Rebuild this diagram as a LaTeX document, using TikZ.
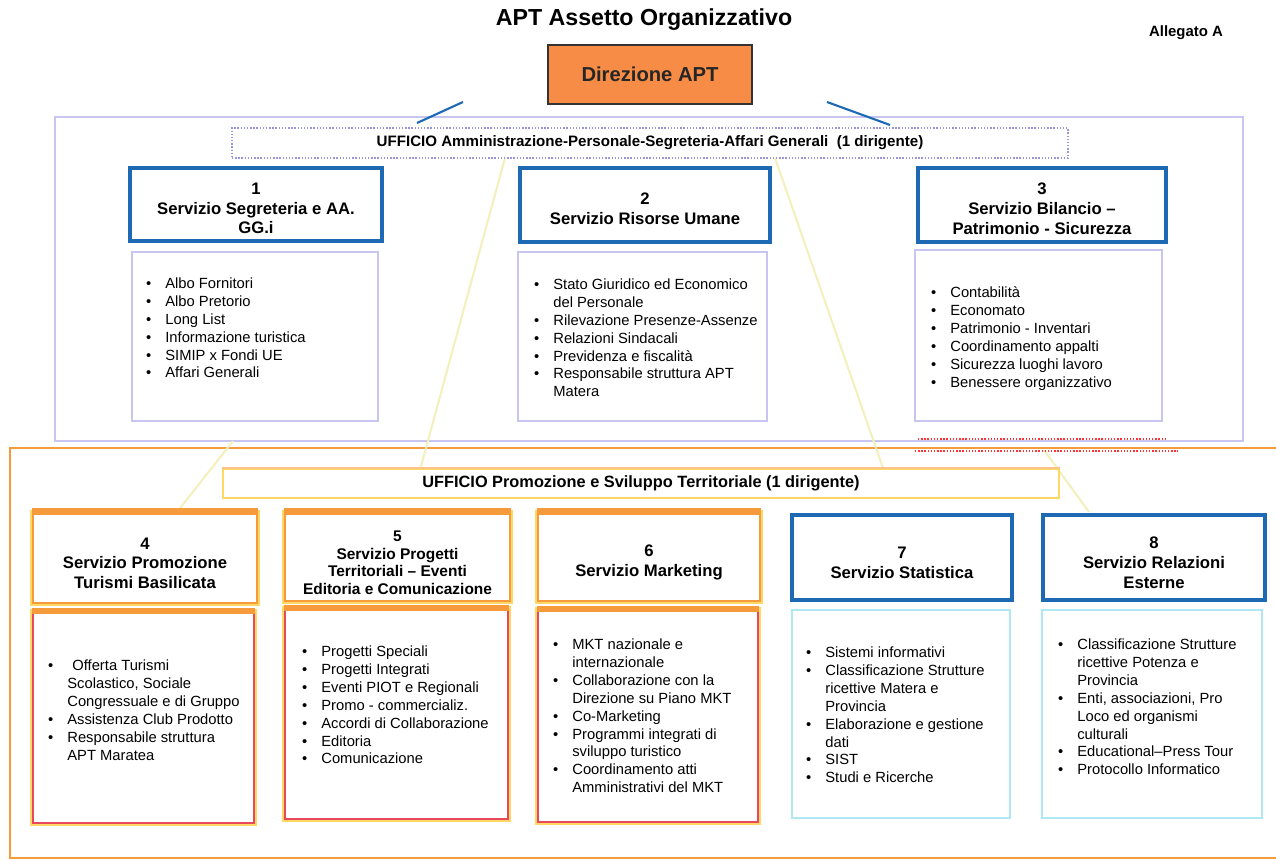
\documentclass[tikz,border=0pt]{standalone}
\usepackage{fontspec}
\setmainfont{Liberation Sans}
\usetikzlibrary{positioning}

\definecolor{dirorange}{RGB}{247,140,70}
\definecolor{boxblue}{RGB}{30,105,180}
\definecolor{lavender}{RGB}{200,198,240}
\definecolor{dotlav}{RGB}{150,150,220}
\definecolor{orgline}{RGB}{245,155,60}
\definecolor{listred}{RGB}{232,72,92}
\definecolor{halo}{RGB}{255,215,100}
\definecolor{cyanline}{RGB}{175,232,242}
\definecolor{faintyel}{RGB}{244,240,190}

\newcommand{\pw}[1]{#1*0.02cm}
\newcommand{\blt}{\llap{\textbullet\hspace{0.28cm}}}
\newcommand{\dropa}{\rule{0pt}{11pt}}
\newcommand{\dropb}{\rule{0pt}{12.5pt}}

\tikzset{
  hdrblue/.style={draw=boxblue, line width=2pt, fill=white, align=center, inner sep=0pt,
    font=\bfseries\fontsize{9.5}{11.3}\selectfont},
  hdrorg/.style={draw=orgline, line width=1.6pt, fill=white, align=center, inner sep=0pt,
    font=\bfseries\fontsize{9.5}{11.3}\selectfont, preaction={draw=halo, line width=3pt}},
  listlav/.style={draw=lavender, line width=1.5pt, fill=white},
  listorg/.style={draw=listred, line width=1pt, fill=white, preaction={draw=halo, line width=3pt}},
  listcyan/.style={draw=cyanline, line width=1.6pt, fill=white},
  listtxt/.style={anchor=north west, align=left, inner sep=0pt,
    font=\fontsize{8.4}{10.24}\selectfont},
  uffbox/.style={inner sep=0pt, align=center},
  faint/.style={faintyel, line width=1.2pt},
}

\begin{document}
\begin{tikzpicture}[x=0.02cm, y=-0.02cm]
  \useasboundingbox (0,0) rectangle (1276,861);

  % titolo
  \node[font=\bfseries\fontsize{13.2}{15}\selectfont] (title) at (644,20) {APT Assetto Organizzativo};
  \node[font=\bfseries\fontsize{8.5}{10}\selectfont] (alleg) at (1186,33) {Allegato A};

  \node[draw=black!80, line width=1.2pt, fill=dirorange, minimum width=\pw{204}, minimum height=\pw{59},
        font=\bfseries\fontsize{11.5}{13}\selectfont, text=black!85] (dir) at (650,74.5) {Direzione APT};

  % contenitori
  \draw[lavender, line width=1.2pt] (55,117) rectangle (1243,441);
  \draw[orgline, line width=1.4pt] (10,448) rectangle (1290,858);

  % linee tenui
  \coordinate (fa1) at (505,158);  \coordinate (fa2) at (420,470);
  \coordinate (fb1) at (775,158);  \coordinate (fb2) at (883,468);
  \coordinate (fc1) at (233,441);  \coordinate (fc2) at (177,512);
  \coordinate (fd1) at (1044,450); \coordinate (fd2) at (1089,512);
  \draw[faint] (fa1) -- (fa2);
  \draw[faint] (fb1) -- (fb2);
  \draw[faint] (fc1) -- (fc2);
  \draw[faint] (fd1) -- (fd2);

  % collegamenti direzione
  \coordinate (dl1) at (463,102); \coordinate (dl2) at (417,123);
  \coordinate (dr1) at (827,102); \coordinate (dr2) at (890,125);
  \draw[boxblue, line width=1.2pt] (dl1) -- (dl2);
  \draw[boxblue, line width=1.2pt] (dr1) -- (dr2);

  % segni rossi
  \coordinate (rs1) at (918,439); \coordinate (rs2) at (1167,439);
  \coordinate (rt1) at (915,451); \coordinate (rt2) at (1178,451);
  \draw[red!80, densely dotted, line width=0.8pt] (rs1) -- (rs2);
  \draw[red!80, densely dotted, line width=0.8pt] (rt1) -- (rt2);

  % ufficio 1
  \node[uffbox, draw=dotlav, densely dotted, line width=0.8pt, minimum width=\pw{836}, minimum height=\pw{30},
        font=\bfseries\fontsize{8.6}{10}\selectfont] (uff1) at (650,143)
        {UFFICIO Amministrazione-Personale-Segreteria-Affari Generali\ \ (1 dirigente)};

  \node[hdrblue, minimum width=\pw{252}, minimum height=\pw{73}] (h1) at (256,204.5)
        {\dropa 1\\Servizio Segreteria e AA.\\GG.i};
  \node[hdrblue, minimum width=\pw{250}, minimum height=\pw{74}] (h2) at (645,205)
        {\dropa 2\\Servizio Risorse Umane};
  \node[hdrblue, minimum width=\pw{248}, minimum height=\pw{74}] (h3) at (1042,205)
        {\dropa 3\\Servizio Bilancio --\\Patrimonio - Sicurezza};

  \node[listlav, minimum width=\pw{246}, minimum height=\pw{169}] (l1) at (255,336.5) {};
  \node[listlav, minimum width=\pw{249}, minimum height=\pw{169}] (l2) at (642.5,336.5) {};
  \node[listlav, minimum width=\pw{247}, minimum height=\pw{171}] (l3) at (1038.5,335.5) {};

  \node[listtxt] (t1) at (165,277) {\blt Albo Fornitori\\ \blt Albo Pretorio\\ \blt Long List\\
        \blt Informazione turistica\\ \blt SIMIP x Fondi UE\\ \blt Affari Generali};
  \node[listtxt] (t2) at (553,278) {\blt Stato Giuridico ed Economico\\ del Personale\\
        \blt Rilevazione Presenze-Assenze\\ \blt Relazioni Sindacali\\ \blt Previdenza e fiscalità\\
        \blt Responsabile struttura APT\\ Matera};
  \node[listtxt] (t3) at (950,286) {\blt Contabilità\\ \blt Economato\\ \blt Patrimonio - Inventari\\
        \blt Coordinamento appalti\\ \blt Sicurezza luoghi lavoro\\ \blt Benessere organizzativo};

  % ufficio 2
  \node[uffbox, draw=halo, line width=1pt, minimum width=\pw{836}, minimum height=\pw{29},
        font=\bfseries\fontsize{9.3}{11}\selectfont] (uff2) at (641,483.5)
        {UFFICIO Promozione e Sviluppo Territoriale (1 dirigente)};
  \draw[orgline!60, line width=1pt] (uff2.north west) -- (uff2.north east);

  \node[hdrorg, minimum width=\pw{224}, minimum height=\pw{90}] (h4) at (145,558)
        {\dropb 4\\Servizio Promozione\\Turismi Basilicata};
  \node[hdrorg, minimum width=\pw{225}, minimum height=\pw{88},
        font=\bfseries\fontsize{8.8}{10}\selectfont] (h5) at (397.5,557)
        {\dropb 5\\Servizio Progetti\\Territoriali -- Eventi\\Editoria e Comunicazione};
  \node[hdrorg, minimum width=\pw{222}, minimum height=\pw{88}] (h6) at (649,557)
        {\dropb 6\\Servizio Marketing};
  \node[hdrblue, minimum width=\pw{220}, minimum height=\pw{85}] (h7) at (902,557.5)
        {\dropb 7\\Servizio Statistica};
  \node[hdrblue, minimum width=\pw{222}, minimum height=\pw{85}] (h8) at (1154,557.5)
        {\dropb 8\\Servizio Relazioni\\Esterne};
  \foreach \h in {h4,h5,h6}
    \draw[orgline, line width=4pt] (\h.north west) -- (\h.north east);

  \node[listorg, minimum width=\pw{221}, minimum height=\pw{211}] (l4) at (143.5,717.5) {};
  \node[listorg, minimum width=\pw{223}, minimum height=\pw{210}] (l5) at (396.5,714) {};
  \node[listorg, minimum width=\pw{220}, minimum height=\pw{212}] (l6) at (648,716) {};
  \node[listcyan, minimum width=\pw{218}, minimum height=\pw{208}] (l7) at (901,714) {};
  \node[listcyan, minimum width=\pw{220}, minimum height=\pw{208}] (l8) at (1152,714) {};
  \foreach \l in {l4,l5,l6}
    \draw[orgline, line width=3pt] (\l.north west) -- (\l.north east);

  \node[listtxt] (t4) at (67,659) {\blt\hspace{0.1cm}Offerta Turismi\\ Scolastico, Sociale\\
        Congressuale e di Gruppo\\ \blt Assistenza Club Prodotto\\ \blt Responsabile struttura\\ APT Maratea};
  \node[listtxt] (t5) at (321,645) {\blt Progetti Speciali\\ \blt Progetti Integrati\\
        \blt Eventi PIOT e Regionali\\ \blt Promo - commercializ.\\ \blt Accordi di Collaborazione\\
        \blt Editoria\\ \blt Comunicazione};
  \node[listtxt] (t6) at (572,638) {\blt MKT nazionale e\\ internazionale\\ \blt Collaborazione con la\\
        Direzione su Piano MKT\\ \blt Co-Marketing\\ \blt Programmi integrati di\\ sviluppo turistico\\
        \blt Coordinamento atti\\ Amministrativi del MKT};
  \node[listtxt] (t7) at (825,646) {\blt Sistemi informativi\\ \blt Classificazione Strutture\\
        ricettive Matera e\\ Provincia\\ \blt Elaborazione e gestione\\ dati\\ \blt SIST\\ \blt Studi e Ricerche};
  \node[listtxt] (t8) at (1077,638) {\blt Classificazione Strutture\\ ricettive Potenza e\\ Provincia\\
        \blt Enti, associazioni, Pro\\ Loco ed organismi\\ culturali\\ \blt Educational--Press Tour\\
        \blt Protocollo Informatico};
\end{tikzpicture}
\end{document}
